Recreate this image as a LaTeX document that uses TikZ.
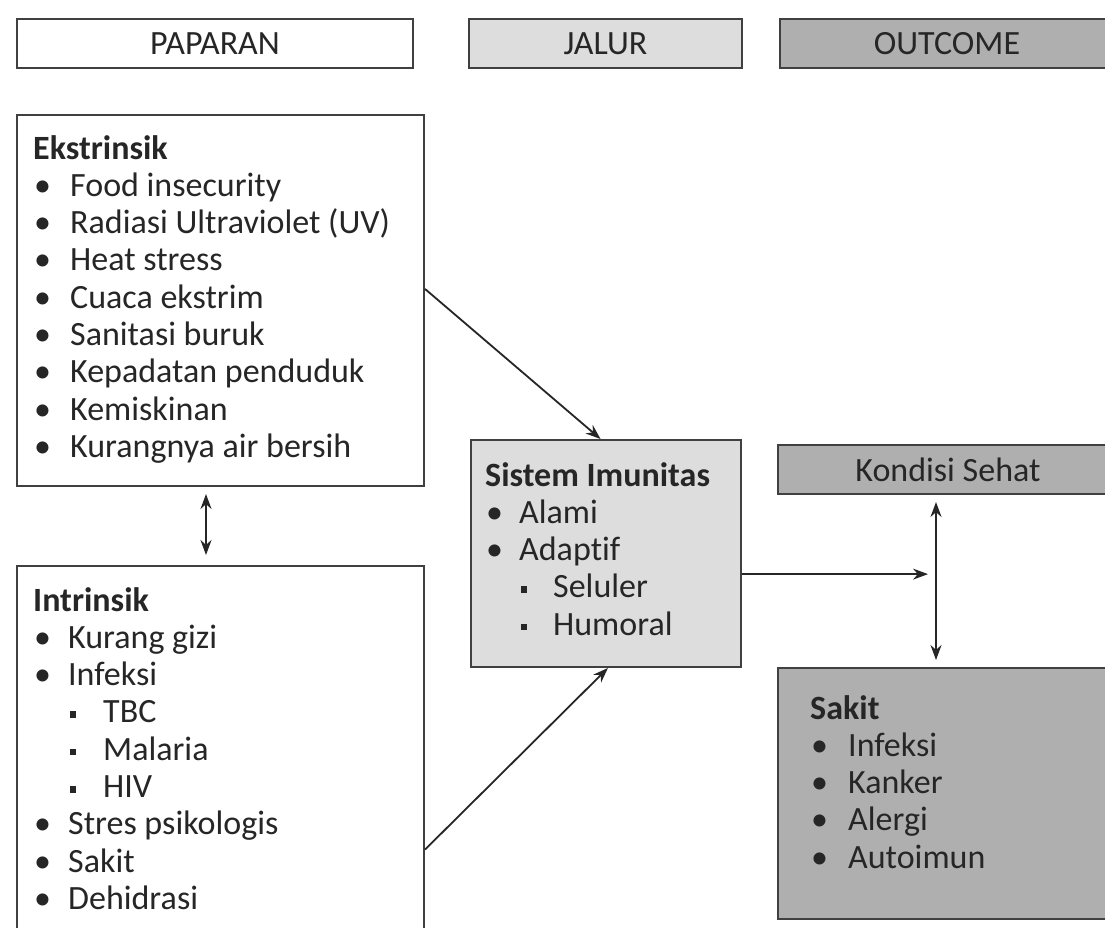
\documentclass[tikz,border=0pt]{standalone}
\usepackage{fontspec}
\setmainfont[Ligatures={NoCommon}]{Carlito}
\usetikzlibrary{arrows.meta,calc}
\definecolor{txt}{HTML}{262626}
\definecolor{bord}{HTML}{404040}
\definecolor{lightg}{HTML}{DDDDDD}
\definecolor{darkg}{HTML}{AFAFAF}
\newcommand{\bul}[1]{\makebox[#1][l]{\hspace{1pt}•}}
\newcommand{\sqb}[1]{\makebox[#1][l]{\hspace{1.5pt}\raisebox{5pt}{\rule{6.5pt}{6.5pt}}}}
\begin{document}
\begin{tikzpicture}[x=1pt,y=-1pt,
  box/.style={draw=bord,line width=2pt,rectangle,inner sep=0pt,anchor=north west,text=txt,font=\fontsize{34}{37.3}\selectfont},
  txtblock/.style={anchor=base west,inner sep=0pt,text=txt,font=\fontsize{34}{37.3}\selectfont},
  arr/.style={draw=txt,line width=1.8pt,-{Stealth[length=15pt,width=11pt]}},
  darr/.style={draw=txt,line width=1.8pt,{Stealth[length=15pt,width=11pt]}-{Stealth[length=15pt,width=11pt]}}]
\useasboundingbox (0,0) rectangle (1105,927);
\clip (0,0) rectangle (1105,927);
\fill[white] (0,0) rectangle (1105,927);

% headers
\node[box,minimum width=396pt,minimum height=49pt] (pap) at (16,18) {PAPARAN};
\node[box,fill=lightg,minimum width=273pt,minimum height=49pt] (jal) at (468,18) {JALUR};
\node[box,fill=darkg,minimum width=334pt,minimum height=49pt] (out) at (779,18) {OUTCOME};

% boxes
\node[box,minimum width=407pt,minimum height=371pt] (ekst) at (16,114) {};
\node[box,minimum width=407pt,minimum height=380pt] (intr) at (16,565) {};
\node[box,fill=lightg,minimum width=270pt,minimum height=227pt] (sis) at (470,439) {};
\node[box,fill=darkg,minimum width=340pt,minimum height=49pt] (kond) at (777,444) {Kondisi Sehat};
\node[box,fill=darkg,minimum width=340pt,minimum height=251pt] (sakit) at (777,667) {};

% texts
\node[txtblock] (ekstT) at (33,159) {\begin{tabular}[t]{@{}l@{}}
\textbf{Ekstrinsik}\\
\bul{37pt}Food insecurity\\
\bul{37pt}Radiasi Ultraviolet (UV)\\
\bul{37pt}Heat stress\\
\bul{37pt}Cuaca ekstrim\\
\bul{37pt}Sanitasi buruk\\
\bul{37pt}Kepadatan penduduk\\
\bul{37pt}Kemiskinan\\
\bul{37pt}Kurangnya air bersih
\end{tabular}};

\node[txtblock] (intrT) at (33,611) {\begin{tabular}[t]{@{}l@{}}
\textbf{Intrinsik}\\
\bul{35pt}Kurang gizi\\
\bul{35pt}Infeksi\\
\hspace{35pt}\sqb{35pt}TBC\\
\hspace{35pt}\sqb{35pt}Malaria\\
\hspace{35pt}\sqb{35pt}HIV\\
\bul{35pt}Stres psikologis\\
\bul{35pt}Sakit\\
\bul{35pt}Dehidrasi
\end{tabular}};

\node[txtblock] (sisT) at (485,486) {\begin{tabular}[t]{@{}l@{}}
\textbf{Sistem Imunitas}\\
\bul{34pt}Alami\\
\bul{34pt}Adaptif\\
\hspace{34pt}\sqb{34pt}Seluler\\
\hspace{34pt}\sqb{34pt}Humoral
\end{tabular}};

\node[txtblock] (sakitT) at (810,719) {\begin{tabular}[t]{@{}l@{}}
\textbf{Sakit}\\
\bul{38pt}Infeksi\\
\bul{38pt}Kanker\\
\bul{38pt}Alergi\\
\bul{38pt}Autoimun
\end{tabular}};

% connectors
\coordinate (vx) at (936,0);
\coordinate (lx) at (206,0);
\coordinate (sisout) at ($(sis.north east)!0.59!(sis.south east)$);
\draw[arr] ($(ekst.north east)!0.469!(ekst.south east)$) -- ($(sis.north west)!0.48!(sis.north east)$);
\draw[arr] ($(intr.north east)!0.745!(intr.south east)$) -- ($(sis.south west)!0.507!(sis.south east)$);
\draw[arr,shorten >=8pt] (sisout) -- (sisout -| vx);
\draw[darr,shorten <=7pt,shorten >=7pt] (kond.south -| vx) -- (sakit.north -| vx);
\draw[darr,shorten <=7pt,shorten >=10pt] (ekst.south -| lx) -- (intr.north -| lx);
\end{tikzpicture}
\end{document}
